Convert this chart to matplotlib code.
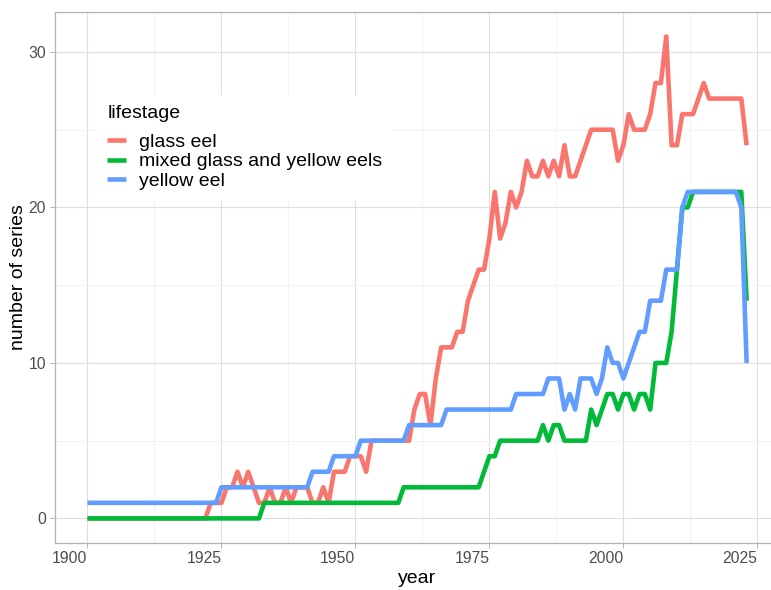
import matplotlib
matplotlib.use("Agg")
import matplotlib.pyplot as plt
from matplotlib.ticker import MultipleLocator

plt.rcParams['font.family'] = ['Liberation Sans', 'DejaVu Sans']

years = list(range(1900, 2024))

# number of series per year
glass_eel = [
    0, 0, 0, 0, 0, 0, 0, 0, 0, 0,        # 1900s
    0, 0, 0, 0, 0, 0, 0, 0, 0, 0,        # 1910s
    0, 0, 0, 1, 1, 1, 2, 2, 3, 2,        # 1920s
    3, 2, 1, 1, 2, 1, 1, 2, 1, 2,        # 1930s
    2, 2, 1, 1, 2, 1, 3, 3, 3, 4,        # 1940s
    4, 4, 3, 5, 5, 5, 5, 5, 5, 5,        # 1950s
    5, 7, 8, 8, 6, 9, 11, 11, 11, 12,    # 1960s
    12, 14, 15, 16, 16, 18, 21, 18, 19, 21,  # 1970s
    20, 21, 23, 22, 22, 23, 22, 23, 22, 24,  # 1980s
    22, 22, 23, 24, 25, 25, 25, 25, 25, 23,  # 1990s
    24, 26, 25, 25, 25, 26, 28, 28, 31, 24,  # 2000s
    24, 26, 26, 26, 27, 28, 27, 27, 27, 27,  # 2010s
    27, 27, 27, 24,                          # 2020s
]
mixed = [
    0, 0, 0, 0, 0, 0, 0, 0, 0, 0,
    0, 0, 0, 0, 0, 0, 0, 0, 0, 0,
    0, 0, 0, 0, 0, 0, 0, 0, 0, 0,
    0, 0, 0, 1, 1, 1, 1, 1, 1, 1,
    1, 1, 1, 1, 1, 1, 1, 1, 1, 1,
    1, 1, 1, 1, 1, 1, 1, 1, 1, 2,
    2, 2, 2, 2, 2, 2, 2, 2, 2, 2,
    2, 2, 2, 2, 3, 4, 4, 5, 5, 5,
    5, 5, 5, 5, 5, 6, 5, 6, 6, 5,
    5, 5, 5, 5, 7, 6, 7, 8, 8, 7,
    8, 8, 7, 8, 8, 7, 10, 10, 10, 12,
    16, 20, 20, 21, 21, 21, 21, 21, 21, 21,
    21, 21, 21, 14,
]
yellow_eel = [
    1, 1, 1, 1, 1, 1, 1, 1, 1, 1,
    1, 1, 1, 1, 1, 1, 1, 1, 1, 1,
    1, 1, 1, 1, 1, 2, 2, 2, 2, 2,
    2, 2, 2, 2, 2, 2, 2, 2, 2, 2,
    2, 2, 3, 3, 3, 3, 4, 4, 4, 4,
    4, 5, 5, 5, 5, 5, 5, 5, 5, 5,
    6, 6, 6, 6, 6, 6, 6, 7, 7, 7,
    7, 7, 7, 7, 7, 7, 7, 7, 7, 7,
    8, 8, 8, 8, 8, 8, 9, 9, 9, 7,
    8, 7, 9, 9, 9, 8, 9, 11, 10, 10,
    9, 10, 11, 12, 12, 14, 14, 14, 16, 16,
    16, 20, 21, 21, 21, 21, 21, 21, 21, 21,
    21, 21, 20, 10,
]

labels = ["glass eel", "mixed glass and yellow eels", "yellow eel"]
colors = ["#F8766D", "#00BA38", "#619CFF"]

W, H = 771, 590
fig = plt.figure(figsize=(W / 100, H / 100), dpi=100)
# panel runs past the right edge of the image, like the reference
ax = fig.add_axes([54.5 / W, 47.5 / H, 725.1 / W, 530.2 / H])

for series, lab, col in zip([glass_eel, mixed, yellow_eel], labels, colors):
    ax.plot(years, series, color=col, lw=3.3, label=lab,
            solid_joinstyle='round', solid_capstyle='butt')

ax.set_xlim(1893.85, 2029.15)
ax.set_ylim(-1.55, 32.55)
ax.xaxis.set_major_locator(MultipleLocator(25))
ax.xaxis.set_minor_locator(MultipleLocator(12.5))
ax.yaxis.set_major_locator(MultipleLocator(10))
ax.yaxis.set_minor_locator(MultipleLocator(5))

ax.grid(which='major', color='#DEDEDE', lw=0.8)
ax.grid(which='minor', color='#EEEEEE', lw=0.5)
ax.set_axisbelow(True)
for s in ax.spines.values():
    s.set_color('#B3B3B3')
    s.set_linewidth(0.9)

ax.tick_params(which='major', length=3.5, width=0.7, color='#B3B3B3',
               labelsize=11.3, labelcolor='#4D4D4D', pad=2.5)
ax.tick_params(which='minor', length=0)
for t in ax.get_xticklabels():
    t.set_ha('right')

ax.set_xlabel('year', fontsize=14, labelpad=3)
ax.set_ylabel('number of series', fontsize=14, labelpad=1)

leg = ax.legend(title='lifestage', loc='upper left',
                bbox_to_anchor=(88 / W, 1 - 86 / H), bbox_transform=fig.transFigure,
                fontsize=14, title_fontsize=14, frameon=True, fancybox=False,
                facecolor='white', edgecolor='white', framealpha=1,
                handlelength=0.95, handletextpad=0.65, labelspacing=0.08,
                borderpad=0.5, alignment='left')
leg._legend_box.sep = 8  # extra gap between the title and the keys
for line in leg.get_lines():
    line.set_linewidth(3.3)

fig.savefig('out.png', dpi=100)
